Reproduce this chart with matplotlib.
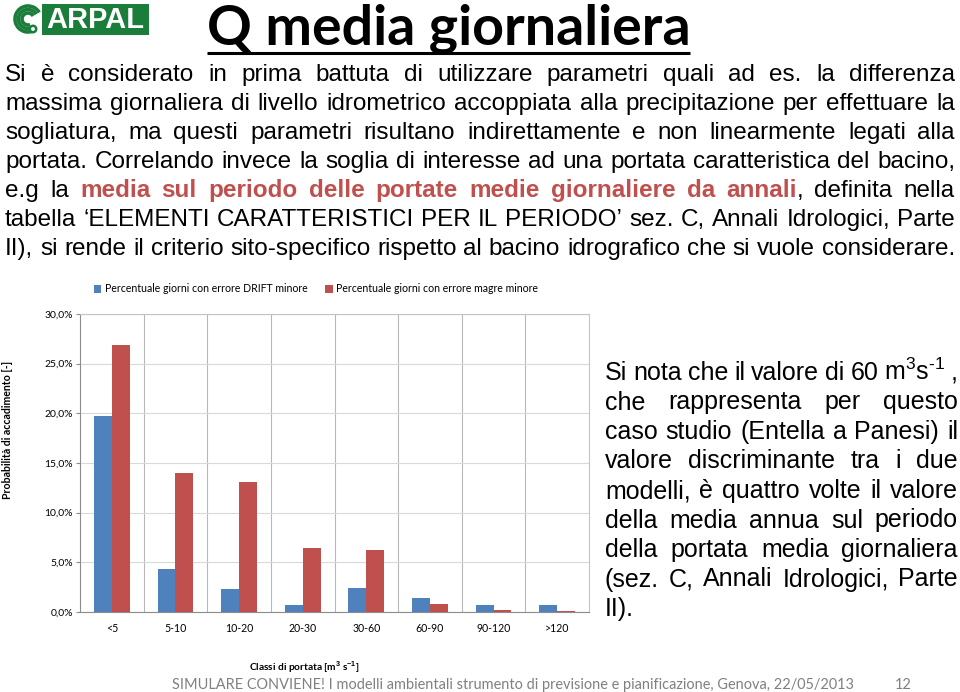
#!/usr/bin/env python3

# Diapositiva ARPAL: "Q media giornaliera" con istogramma a barre affiancate
import numpy as np
import matplotlib
matplotlib.use('Agg')
import matplotlib.pyplot as plt
from matplotlib import font_manager
from matplotlib.patches import Rectangle, Arc, Circle

W, H = 960, 692

# dati del grafico
categorie = ['<5', '5-10', '10-20', '20-30', '30-60', '60-90', '90-120', '>120']
drift = [19.7, 4.3, 2.3, 0.7, 2.4, 1.4, 0.7, 0.75]
magre = [26.9, 14.0, 13.1, 6.4, 6.2, 0.85, 0.25, 0.12]
etichette_y = [0, 5, 10, 15, 20, 25, 30]

serie_nomi = ['Percentuale giorni con errore DRIFT minore',
              'Percentuale giorni con errore magre minore']

titolo = 'Q media giornaliera'
piede = 'SIMULARE CONVIENE! I modelli ambientali strumento di previsione e pianificazione, Genova, 22/05/2013'
numero_pagina = '12'

righe_testo = [
    'Si è considerato in prima battuta di utilizzare parametri quali ad es. la differenza',
    'massima giornaliera di livello idrometrico accoppiata alla precipitazione per effettuare la',
    'sogliatura, ma questi parametri risultano indirettamente e non linearmente legati alla',
    'portata. Correlando invece la soglia di interesse ad una portata caratteristica del bacino,',
    None,  # riga con evidenziazione, costruita sotto
    'tabella ‘ELEMENTI CARATTERISTICI PER IL PERIODO’ sez. C, Annali Idrologici, Parte',
    'II), si rende il criterio sito-specifico rispetto al bacino idrografico che si vuole considerare.',
]
evidenziato = 'media sul periodo delle portate medie giornaliere da'

righe_destra = [
    'Si nota che il valore di 60 m$^{3}$s$^{\\text{-}1}$ ,',
    'che rappresenta per questo',
    'caso studio (Entella a Panesi) il',
    'valore discriminante tra i due',
    'modelli, è quattro volte il valore',
    'della media annua sul periodo',
    'della portata media giornaliera',
    '(sez. C, Annali Idrologici, Parte',
    'II).',
]

BLU = '#4f81bd'
ROSSO = '#c0504d'
VERDE = '#1b7d3a'

plt.rcParams['font.family'] = ['Lato', 'DejaVu Sans']
plt.rcParams['mathtext.fontset'] = 'custom'
plt.rcParams['mathtext.rm'] = 'Liberation Sans'
plt.rcParams['mathtext.bf'] = 'Liberation Sans:bold'

# per il corpo serve un carattere stretto (tipo Arial Narrow), se c'è
font_sistema = font_manager.fontManager.ttflist
nomi_font = {f.name for f in font_sistema}
stile_stretto = {}
if 'Liberation Sans Narrow' in nomi_font:
    FONT_CORPO = ['Liberation Sans Narrow', 'DejaVu Sans']
elif any(f.name == 'Noto Sans' and f.stretch == 'condensed' for f in font_sistema):
    FONT_CORPO = ['Noto Sans', 'DejaVu Sans']
    stile_stretto = {'fontstretch': 'condensed'}
else:
    FONT_CORPO = ['Liberation Sans', 'DejaVu Sans']
FONT_ARIAL = ['Liberation Sans', 'DejaVu Sans']

fig = plt.figure(figsize=(W / 100, H / 100), dpi=100)
renderer = fig.canvas.get_renderer()

# asse di sfondo in coordinate pixel (y verso il basso)
bg = fig.add_axes([0, 0, 1, 1])
bg.set_xlim(0, W)
bg.set_ylim(H, 0)
bg.axis('off')


def larghezza(testo, **stile):
    t = bg.text(0, 0, testo, **stile)
    w = t.get_window_extent(renderer).width
    t.remove()
    return w


def adatta(testo, larg, **stile):
    # dimensione del carattere che dà la larghezza voluta
    s = stile.pop('size', 12)
    return s * larg / larghezza(testo, size=s, **stile)


def riga(parole, x0, x1, y, stile, giustifica=True):
    larg = [[larghezza(s, **{**stile, **e}) for s, e in p] for p in parole]
    tot = sum(sum(l) for l in larg)
    if giustifica and len(parole) > 1:
        spazio = (x1 - x0 - tot) / (len(parole) - 1)
    else:
        spazio = larghezza('a a', **stile) - larghezza('aa', **stile)
    x = x0
    for p, lp in zip(parole, larg):
        for (s, e), l in zip(p, lp):
            bg.text(x, y, s, va='baseline', ha='left', **{**stile, **e})
            x += l
        x += spazio


def parole_da(testo):
    return [[(p, {})] for p in testo.split()]


# logo ARPAL
bg.add_patch(Rectangle((42, 4), 107, 31, color=VERDE, lw=0))
bg.text(95.5, 20, 'ARPAL', color='white', family=FONT_ARIAL, weight='bold',
        size=adatta('ARPAL', 98, family=FONT_ARIAL, weight='bold', size=20),
        ha='center', va='center')
for r in [13, 9.5, 6]:
    bg.add_patch(Arc((28, 19), 2 * r, 2 * r, theta1=70, theta2=330, color=VERDE, lw=2.6))
bg.add_patch(Circle((33, 29), 3.2, facecolor='white', edgecolor=VERDE, lw=1.8))

# titolo sottolineato
dim_tit = adatta(titolo, 483, family=['Lato', 'DejaVu Sans'], weight='bold', size=36)
bg.text(448.5, 45, titolo, family=['Lato', 'DejaVu Sans'], weight='bold', size=dim_tit,
        ha='center', va='baseline')
bg.plot([207, 690], [52.5, 52.5], color='black', lw=2.2, solid_capstyle='butt')

# testo principale giustificato
rosso_b = {'color': ROSSO, 'weight': 'bold'}
riga5 = ([[('e.g', {})], [('la', {})]]
         + [[(p, rosso_b)] for p in evidenziato.split()]
         + [[('annali', rosso_b), (',', {})], [('definita', {})], [('nella', {})]])
righe = [parole_da(r) if r is not None else riga5 for r in righe_testo]

dim_corpo = 18
base = {'family': FONT_CORPO, 'size': dim_corpo, **stile_stretto}
sp = larghezza('a a', **base) - larghezza('aa', **base)
massimo = max(sum(larghezza(s, **{**base, **e}) for p in r for s, e in p) + (len(r) - 1) * sp
              for r in righe)
if massimo > 948:
    dim_corpo = dim_corpo * 948 / massimo
stile_corpo = {'family': FONT_CORPO, 'size': dim_corpo, 'color': 'black', **stile_stretto}
for i, r in enumerate(righe):
    riga(r, 5, 955, 81 + 29 * i, stile_corpo)

# testo a destra
stile_destra = {'family': FONT_ARIAL, 'size': 18, 'color': 'black'}
for i, r in enumerate(righe_destra):
    riga(parole_da(r), 605, 958, 380 + 29.5 * i, stile_destra,
         giustifica=(i < len(righe_destra) - 1))

# grafico
ax = fig.add_axes([80 / W, 1 - 612 / H, 509 / W, 298 / H])
x = np.arange(len(categorie))
larg_barra = 0.28
b1 = ax.bar(x - larg_barra / 2, drift, larg_barra, color=BLU, zorder=3)
b2 = ax.bar(x + larg_barra / 2, magre, larg_barra, color=ROSSO, zorder=3)
ax.set_xlim(-0.5, len(categorie) - 0.5)
ax.set_ylim(0, 30)
ax.set_yticks(etichette_y)
ax.set_yticklabels([f'{v:.1f}'.replace('.', ',') + '%' for v in etichette_y])
ax.set_xticks(x)
ax.set_xticklabels(categorie)
ax.yaxis.grid(True, color='#d9d9d9', lw=0.8, zorder=0)
for b in np.arange(0.5, len(categorie) - 0.5, 1):
    ax.axvline(b, color='#b8b8b8', lw=0.8, zorder=1)
for lato in ['top', 'right']:
    ax.spines[lato].set_color('#c4c4c4')
    ax.spines[lato].set_linewidth(0.8)
for lato in ['left', 'bottom']:
    ax.spines[lato].set_color('#8c8c8c')
    ax.spines[lato].set_linewidth(0.8)
ax.tick_params(axis='y', length=3, color='#8c8c8c', labelsize=7.5, pad=2)
ax.tick_params(axis='x', length=0, labelsize=7.6, pad=8)

fig.legend([b1, b2], serie_nomi, loc='center', bbox_to_anchor=(316 / W, 1 - 289 / H),
           ncol=2, frameon=False, fontsize=7.6, handlelength=0.7, handleheight=0.7,
           handletextpad=0.35, columnspacing=1.7)

bg.text(8, 430, 'Probabilità di accadimento [-]', rotation=90, weight='bold', size=7.6,
        ha='center', va='center')
bg.text(249, 667, 'Classi di portata [m$^{\\mathbf{3}}$ s$^{\\mathbf{-1}}$]', weight='bold',
        size=7.3, ha='left', va='center')

# piè di pagina
dim_piede = adatta(piede, 679, size=12)
bg.text(172, 689, piede, color='#808080', size=dim_piede, va='baseline')
bg.text(895, 689, numero_pagina, color='#808080', size=dim_piede, va='baseline')

fig.savefig('out.png', dpi=100)
